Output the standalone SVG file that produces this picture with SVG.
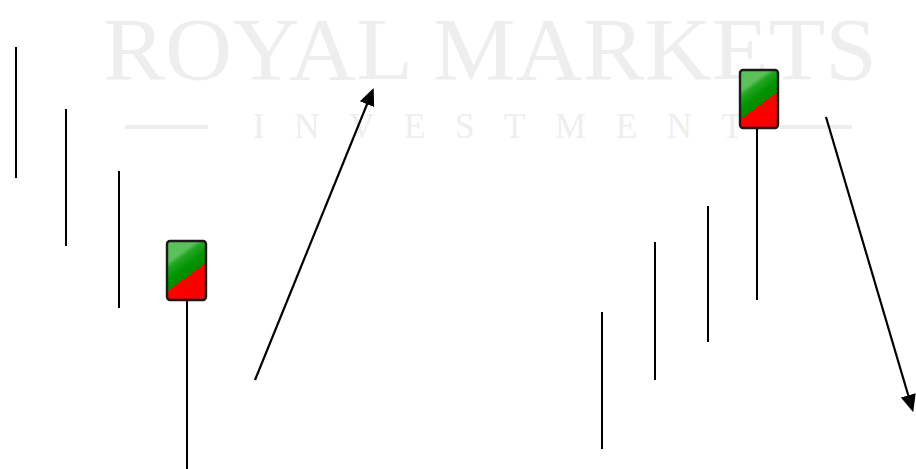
<svg xmlns="http://www.w3.org/2000/svg" width="916" height="469" viewBox="0 0 916 469">
<style>
.wm{fill:#eeeeee;font-family:"Liberation Serif",serif}
.bar{stroke:#000;stroke-width:2;fill:none}
.arr{stroke:#000;stroke-width:2.2;fill:none;marker-end:url(#ah)}
.body{fill:url(#cg);stroke:#1a1a1a;stroke-width:2.4}
</style>
<defs>
<linearGradient id="cg" x1="0.307" y1="0.22" x2="0.693" y2="1.02">
<stop offset="0" stop-color="#5cc05c"/>
<stop offset="0.1" stop-color="#22a522"/>
<stop offset="0.3" stop-color="#029402"/>
<stop offset="0.5" stop-color="#008a00"/>
<stop offset="0.5" stop-color="#ff0000"/>
<stop offset="1" stop-color="#f40000"/>
</linearGradient>
<marker id="ah" markerWidth="8" markerHeight="8" refX="6" refY="4" orient="auto" markerUnits="strokeWidth">
<path d="M0,0.5 L8,4 L0,7.5 Z" fill="#000"/>
</marker>
</defs>
<rect width="916" height="469" fill="#fff"/>
<g id="watermark">
<text class="wm" x="103" y="79" font-size="88" textLength="774" lengthAdjust="spacingAndGlyphs">ROYAL MARKETS</text>
<rect x="125" y="125" width="83" height="4" fill="#eeeeee"/>
<rect x="780" y="125" width="72" height="4" fill="#eeeeee"/>
<text class="wm" x="253" y="138" font-size="35" textLength="490" lengthAdjust="spacing">INVESTMENT</text>
</g>
<g id="bars-left">
<line class="bar" x1="16" y1="47" x2="16" y2="178"/>
<line class="bar" x1="66" y1="109" x2="66" y2="246"/>
<line class="bar" x1="119" y1="171" x2="119" y2="308"/>
</g>
<g id="candle-left">
<line class="bar" x1="187" y1="300" x2="187" y2="469"/>
<rect class="body" x="167" y="241" width="39" height="59" rx="3"/>
</g>
<g id="bars-right">
<line class="bar" x1="602" y1="312" x2="602" y2="449"/>
<line class="bar" x1="655" y1="242" x2="655" y2="380"/>
<line class="bar" x1="708" y1="206" x2="708" y2="342"/>
</g>
<g id="candle-right">
<line class="bar" x1="757" y1="128" x2="757" y2="300"/>
<rect class="body" x="740" y="70" width="38" height="58" rx="3"/>
</g>
<g id="connectors">
<line class="arr" x1="255" y1="380" x2="372" y2="92"/>
<line class="arr" x1="826" y1="117" x2="912" y2="408"/>
</g>
</svg>
